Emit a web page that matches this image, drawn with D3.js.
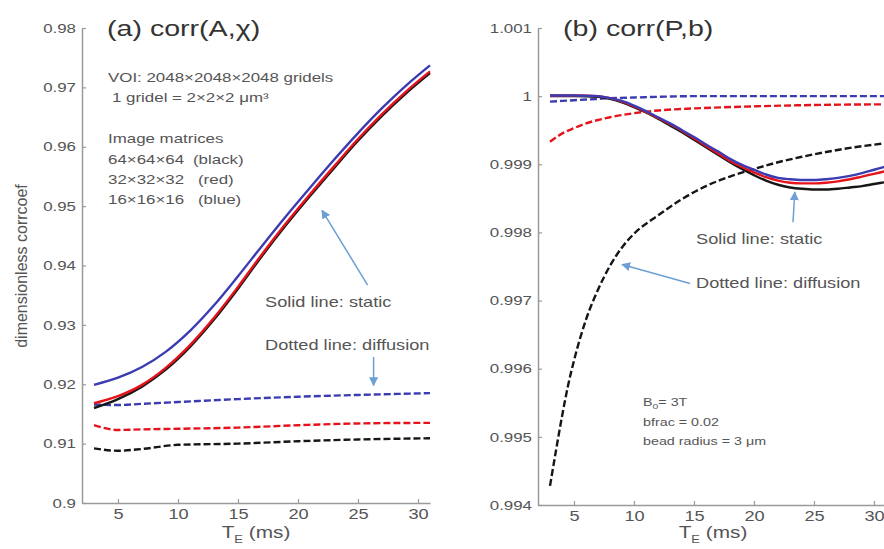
<!DOCTYPE html>
<html>
<head>
<meta charset="utf-8">
<script src="https://cdn.jsdelivr.net/npm/d3@7"></script>
<style>
body { margin: 0; background: #fff; }
text { font-family: "Liberation Sans", Arial, sans-serif; fill: #555; }
</style>
</head>
<body>
<svg id="chart" width="884" height="549"></svg>
<script>
// ---- data ----
// (a) corr(A,chi)
var TE_A = [3, 5, 7, 9, 11, 13, 15, 17, 19, 21, 23, 25, 27, 29, 31];
var A_STATIC_BLACK = [0.9160, 0.9175, 0.9196, 0.9225, 0.9263, 0.9309, 0.9361, 0.9416, 0.9468, 0.9517, 0.9564, 0.9610, 0.9652, 0.9690, 0.9724];
var A_STATIC_RED   = [0.9168, 0.9180, 0.9199, 0.9228, 0.9266, 0.9312, 0.9364, 0.9419, 0.9471, 0.9520, 0.9567, 0.9613, 0.9655, 0.9693, 0.9727];
var A_STATIC_BLUE  = [0.9199, 0.9211, 0.9229, 0.9255, 0.9290, 0.9333, 0.9382, 0.9433, 0.9483, 0.9531, 0.9578, 0.9623, 0.9665, 0.9703, 0.9737];

var TE_A_DIFF = [3, 5, 7, 10, 15, 20, 25, 31];
var A_DIFF_BLUE  = [0.9166, 0.9165, 0.9167, 0.9170, 0.9175, 0.9179, 0.9182, 0.9185];
var A_DIFF_RED   = [0.9131, 0.9123, 0.9124, 0.9125, 0.9127, 0.9131, 0.9134, 0.9135];
var A_DIFF_BLACK = [0.9092, 0.9088, 0.9091, 0.9098, 0.9100, 0.9104, 0.9107, 0.9109];

// (b) corr(P,b)
var TE_B = [3, 5, 7, 8, 9, 10, 11, 12, 13, 14, 15, 16, 17, 18, 19, 20, 21, 22, 23, 24, 25, 26, 27, 28, 29, 30, 31];
var B_STATIC_BLUE  = [1.00001, 1.00001, 1.00000, 0.99997, 0.99993, 0.99986, 0.99978, 0.99969, 0.99960, 0.99950, 0.99940, 0.99929, 0.99919, 0.99908, 0.99899, 0.99892, 0.99885, 0.99880, 0.99878, 0.99877, 0.99877, 0.99878, 0.99880, 0.99883, 0.99887, 0.99892, 0.99897];
var B_STATIC_RED   = [1.00001, 1.00001, 1.00000, 0.99997, 0.99992, 0.99985, 0.99977, 0.99968, 0.99959, 0.99949, 0.99938, 0.99927, 0.99916, 0.99905, 0.99896, 0.99888, 0.99881, 0.99876, 0.99873, 0.99872, 0.99872, 0.99873, 0.99875, 0.99878, 0.99882, 0.99886, 0.99890];
var B_STATIC_BLACK = [1.00000, 1.00000, 0.99999, 0.99996, 0.99991, 0.99984, 0.99976, 0.99967, 0.99957, 0.99947, 0.99936, 0.99925, 0.99914, 0.99903, 0.99893, 0.99884, 0.99876, 0.99870, 0.99866, 0.99864, 0.99863, 0.99863, 0.99864, 0.99866, 0.99868, 0.99871, 0.99874];

var TE_B_DIFF = [3, 4, 5, 6, 7, 8, 10, 12, 15, 20, 25, 31];
var B_DIFF_BLUE = [0.99992, 0.99993, 0.99994, 0.99995, 0.99996, 0.99997, 0.99998, 0.99999, 1.00000, 1.00000, 1.00000, 1.00000];
var B_DIFF_RED  = [0.99933, 0.99945, 0.99953, 0.99960, 0.99965, 0.99969, 0.99975, 0.99979, 0.99982, 0.99985, 0.99987, 0.99988];
var TE_B_DIFF_BLACK = [3, 3.5, 4, 4.5, 5, 6, 7, 8, 9, 10, 12, 14, 16, 18, 20, 22, 24, 26, 28, 31];
var B_DIFF_BLACK = [0.99428, 0.99480, 0.99530, 0.99575, 0.99612, 0.99672, 0.99716, 0.99751, 0.99778, 0.99798, 0.99825, 0.99849, 0.99868, 0.99882, 0.99893, 0.99903, 0.99911, 0.99918, 0.99924, 0.99931];

// ticks
var X_TICKS = [5, 10, 15, 20, 25, 30];
var X_LABELS = ["5", "10", "15", "20", "25", "30"];
var A_Y_TICKS = [0.9, 0.91, 0.92, 0.93, 0.94, 0.95, 0.96, 0.97, 0.98];
var A_Y_LABELS = ["0.9", "0.91", "0.92", "0.93", "0.94", "0.95", "0.96", "0.97", "0.98"];
var B_Y_TICKS = [0.994, 0.995, 0.996, 0.997, 0.998, 0.999, 1, 1.001];
var B_Y_LABELS = ["0.994", "0.995", "0.996", "0.997", "0.998", "0.999", "1", "1.001"];

var BLUE = "#3b3bb2", RED = "#e5141c", BLACK = "#161616", ARROW = "#6c9fd6";
var SX = 1.3; // the source figure is stretched sideways

var svg = d3.select("#chart");

svg.append("defs").append("marker")
    .attr("id", "head")
    .attr("viewBox", "0 0 10 10")
    .attr("refX", 9).attr("refY", 5)
    .attr("markerWidth", 9).attr("markerHeight", 9)
    .attr("markerUnits", "userSpaceOnUse")
    .attr("orient", "auto")
  .append("path")
    .attr("d", "M0,0 L10,5 L0,10 z")
    .attr("fill", ARROW);

// text with the sideways stretch
function label(g, x, y, s, size, anchor) {
    return g.append("text")
        .attr("transform", "translate(" + x + "," + y + ") scale(" + SX + ",1)")
        .attr("text-anchor", anchor || "start")
        .style("font-size", size + "px")
        .text(s);
}

function styleAxis(g, size) {
    g.select(".domain").attr("stroke", "#9a9a9a").attr("stroke-width", 1.5);
    g.selectAll(".tick line").attr("stroke", "#9a9a9a").attr("stroke-width", 1.2);
    g.selectAll(".tick text")
        .attr("fill", "#555")
        .style("font-size", size + "px")
        .style("font-family", "'Liberation Sans', Arial, sans-serif")
        .each(function () {
            var t = d3.select(this);
            t.attr("x", (+t.attr("x") || 0) / SX).attr("transform", "scale(" + SX + ",1)");
        });
}

function panel(opt) {
    var x = d3.scaleLinear().domain([2, 31]).range(opt.xr);
    var y = d3.scaleLinear().domain(opt.yd).range(opt.yr);
    var g = svg.append("g");

    var xa = g.append("g")
        .attr("transform", "translate(0," + opt.yr[0] + ")")
        .call(d3.axisBottom(x).tickValues(X_TICKS)
            .tickFormat(function (d, i) { return X_LABELS[i]; })
            .tickSizeInner(-4).tickSizeOuter(0).tickPadding(6));
    styleAxis(xa, 14);

    var ya = g.append("g")
        .attr("transform", "translate(" + opt.xr[0] + ",0)")
        .call(d3.axisLeft(y).tickValues(opt.yTicks)
            .tickFormat(function (d, i) { return opt.yLabels[i]; })
            .tickSizeInner(-4).tickSizeOuter(0).tickPadding(6));
    styleAxis(ya, 13);

    opt.series.forEach(function (s) {
        var pts = s.te.map(function (t, i) { return [t, s.v[i]]; });
        var line = d3.line()
            .x(function (d) { return x(d[0]); })
            .y(function (d) { return y(d[1]); })
            .curve(d3.curveMonotoneX);
        g.append("path")
            .attr("d", line(pts))
            .attr("fill", "none")
            .attr("stroke", s.c)
            .attr("stroke-width", 2.4)
            .attr("stroke-dasharray", s.dash ? "7,3" : null);
    });

    opt.arrows.forEach(function (a) {
        g.append("line")
            .attr("x1", x(a[0])).attr("y1", y(a[1]))
            .attr("x2", x(a[2])).attr("y2", y(a[3]))
            .attr("stroke", ARROW).attr("stroke-width", 1.5)
            .attr("marker-end", "url(#head)");
    });

    // x label: T_E (ms)
    var xl = g.append("text")
        .attr("transform", "translate(" + opt.xLabelX + ",538) scale(" + SX + ",1)")
        .attr("text-anchor", "middle")
        .style("font-size", "16px");
    xl.append("tspan").text("T");
    xl.append("tspan").attr("dy", 5).style("font-size", "10px").text("E");
    xl.append("tspan").attr("dy", -5).text(" (ms)");

    return g;
}

var ga = panel({
    xr: [82, 430], yd: [0.9, 0.98], yr: [503, 28],
    yTicks: A_Y_TICKS, yLabels: A_Y_LABELS, xLabelX: 256,
    series: [
        { te: TE_A_DIFF, v: A_DIFF_BLACK, c: BLACK, dash: true },
        { te: TE_A_DIFF, v: A_DIFF_RED, c: RED, dash: true },
        { te: TE_A_DIFF, v: A_DIFF_BLUE, c: BLUE, dash: true },
        { te: TE_A, v: A_STATIC_BLACK, c: BLACK },
        { te: TE_A, v: A_STATIC_RED, c: RED },
        { te: TE_A, v: A_STATIC_BLUE, c: BLUE }
    ],
    arrows: [[25.8, 0.9367, 22.0, 0.9493], [26.3, 0.9246, 26.3, 0.9198]]
});

label(ga, 107, 36, "(a) corr(A,\u03c7)", 22).style("fill", "#333");
label(ga, 108, 82, "VOI: 2048\u00d72048\u00d72048  gridels", 13);
label(ga, 112, 102, "1 gridel = 2\u00d72\u00d72 \u03bcm\u00b3", 13);
label(ga, 108, 143, "Image matrices", 13);
label(ga, 108, 164, "64\u00d764\u00d764", 13);
label(ga, 108, 184, "32\u00d732\u00d732", 13);
label(ga, 108, 204, "16\u00d716\u00d716", 13);
label(ga, 193, 164, "(black)", 13);
label(ga, 198, 184, "(red)", 13);
label(ga, 198, 204, "(blue)", 13);
label(ga, 265, 307, "Solid line: static", 14);
label(ga, 265, 350, "Dotted line: diffusion", 14);

ga.append("text")
    .attr("transform", "translate(27,266) rotate(-90)")
    .attr("text-anchor", "middle")
    .style("font-size", "16px")
    .text("dimensionless corrcoef");

var gb = panel({
    xr: [538, 886], yd: [0.994, 1.001], yr: [505, 28],
    yTicks: B_Y_TICKS, yLabels: B_Y_LABELS, xLabelX: 713,
    series: [
        { te: TE_B_DIFF_BLACK, v: B_DIFF_BLACK, c: BLACK, dash: true },
        { te: TE_B_DIFF, v: B_DIFF_RED, c: RED, dash: true },
        { te: TE_B_DIFF, v: B_DIFF_BLUE, c: BLUE, dash: true },
        { te: TE_B, v: B_STATIC_BLACK, c: BLACK },
        { te: TE_B, v: B_STATIC_RED, c: RED },
        { te: TE_B, v: B_STATIC_BLUE, c: BLUE }
    ],
    arrows: [[23.25, 0.99815, 23.4, 0.99859], [14.67, 0.99725, 9.0, 0.99753]]
});

label(gb, 563, 36, "(b) corr(P,b)", 22).style("fill", "#333");
label(gb, 696, 244, "Solid line: static", 14);
label(gb, 696, 288, "Dotted line: diffusion", 14);
var b0 = label(gb, 643, 406, "B", 11);
b0.append("tspan").attr("dy", 3).style("font-size", "8px").text("0");
b0.append("tspan").attr("dy", -3).text("= 3T");
label(gb, 643, 426, "bfrac  = 0.02", 11);
label(gb, 643, 445, "bead radius = 3 \u03bcm", 11);
</script>
</body>
</html>
